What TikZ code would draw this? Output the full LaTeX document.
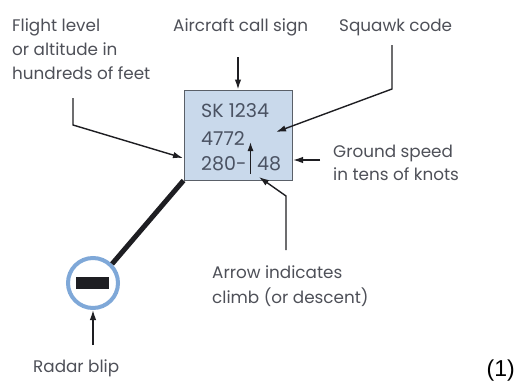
\documentclass[tikz,border=0pt]{standalone}
\usepackage{fontspec}
\setmainfont{Poppins}
\newfontfamily\arialfont{Liberation Sans}
\usetikzlibrary{arrows.meta}
\definecolor{txt}{HTML}{4E5058}
\definecolor{boxtxt}{HTML}{4A5262}
\definecolor{boxfill}{HTML}{C9D9EB}
\definecolor{boxline}{HTML}{5A6068}
\definecolor{ln}{HTML}{1E1E22}
\definecolor{blip}{HTML}{7FA8D8}
\tikzset{
  lbl/.style={inner sep=0pt, anchor=base west, text=txt, font=\fontsize{16.8}{18}\selectfont},
  boxt/.style={inner sep=0pt, anchor=base west, text=boxtxt, font=\fontsize{19}{20}\selectfont},
  conn/.style={draw=ln, line width=1.4pt, -{Latex[length=10pt,width=6.5pt]}},
}
\begin{document}
\begin{tikzpicture}[x=1pt,y=-1pt]
\useasboundingbox (0,0) rectangle (517,383);
% data block
\node[draw=boxline, fill=boxfill, line width=1pt, minimum width=108pt, minimum height=90pt, inner sep=0pt] (box) at (238,135) {};
\node[boxt] (l1) at (201,117) {SK 1234};
\node[boxt] (l2) at (201,145) {4772};
\node[boxt] (l3a) at (201,170) {280-};
\node[boxt] (l3b) at (257,170) {48};
\coordinate (climbS) at (250.5,174);
\coordinate (climbE) at (250.5,142);
\draw[conn, -{Latex[length=9pt,width=6pt]}] (climbS) -- (climbE);
% labels
\node[lbl] (fl1) at (12,31) {Flight level};
\node[lbl] (fl2) at (12,55) {or altitude in};
\node[lbl] (fl3) at (12,79) {hundreds of feet};
\node[lbl] (acs) at (173,31) {Aircraft call sign};
\node[lbl] (sq) at (339,31) {Squawk code};
\node[lbl] (gs1) at (333,157) {Ground speed};
\node[lbl] (gs2) at (333,180) {in tens of knots};
\node[lbl] (ar1) at (212,278) {Arrow indicates};
\node[lbl] (ar2) at (212,303) {climb (or descent)};
\node[lbl] (rb) at (33,372) {Radar blip};
\node[inner sep=0pt, anchor=base east, font=\arialfont\fontsize{23}{26}\selectfont] (num) at (515,376) {(1)};
% connector anchor points
\coordinate (flA) at (73,98);
\coordinate (flB) at (73,125);
\coordinate (flT) at (183,158);
\coordinate (acA) at (238,57);
\coordinate (sqA) at (392,45);
\coordinate (sqB) at (392,89);
\coordinate (sqT) at (276,132);
\coordinate (gsA) at (320,160);
\coordinate (gsT) at (293,160);
\coordinate (arA) at (286,250);
\coordinate (arB) at (286,196);
\coordinate (arT) at (259,177);
\coordinate (rbA) at (93,345);
% connectors
\draw[conn] (flA) -- (flB) -- (flT);
\draw[conn] (acA) -- (box.north);
\draw[conn] (sqA) -- (sqB) -- (sqT);
\draw[conn] (gsA) -- (gsT);
\draw[conn] (arA) -- (arB) -- (arT);
% radar blip
\node[circle, draw=blip, line width=4pt, minimum size=50pt, inner sep=0pt] (blipc) at (93,283) {};
\node[fill=ln, minimum width=33pt, minimum height=12pt, inner sep=0pt] (bar) at (92,283) {};
\draw[ln, line width=5pt] (box.south west) -- (blipc.north east);
\draw[conn] (rbA) -- (blipc.south);
\end{tikzpicture}
\end{document}
